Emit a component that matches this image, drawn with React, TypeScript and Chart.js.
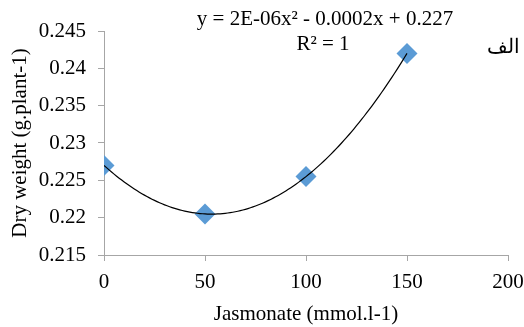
import React, { useEffect, useRef } from "react";
import { Chart, registerables } from "chart.js";

Chart.register(...registerables);

const jasmonate = [0, 50, 100, 150];
const dryWeight = [0.227, 0.2205, 0.2255, 0.242];
const xTicks = [0, 50, 100, 150, 200];
const yTicks = [0.215, 0.22, 0.225, 0.23, 0.235, 0.24, 0.245];
const equationText = "y = 2E-06x² - 0.0002x + 0.227";
const r2Text = "R² = 1";
const panelLabel = "الف";
const xTitle = "Jasmonate (mmol.l-1)";
const yTitle = "Dry weight (g.plant-1)";

function quadFit(xs: number[], ys: number[]) {
  let s0 = 0, s1 = 0, s2 = 0, s3 = 0, s4 = 0, t0 = 0, t1 = 0, t2 = 0;
  for (let i = 0; i < xs.length; i++) {
    const x = xs[i], y = ys[i];
    s0 += 1; s1 += x; s2 += x * x; s3 += x * x * x; s4 += x * x * x * x;
    t0 += y; t1 += x * y; t2 += x * x * y;
  }
  const M = [
    [s0, s1, s2, t0],
    [s1, s2, s3, t1],
    [s2, s3, s4, t2],
  ];
  for (let i = 0; i < 3; i++) {
    let p = i;
    for (let r = i + 1; r < 3; r++) if (Math.abs(M[r][i]) > Math.abs(M[p][i])) p = r;
    [M[i], M[p]] = [M[p], M[i]];
    for (let r = 0; r < 3; r++) {
      if (r === i) continue;
      const f = M[r][i] / M[i][i];
      for (let c = i; c < 4; c++) M[r][c] -= f * M[i][c];
    }
  }
  return [M[0][3] / M[0][0], M[1][3] / M[1][1], M[2][3] / M[2][2]];
}

const FONT = "'Liberation Serif', 'Times New Roman', serif";
const FS = 21;

export default function App() {
  const ref = useRef<HTMLCanvasElement | null>(null);
  useEffect(() => {
    document.body.style.margin = "0";
    const [a, b, c] = quadFit(jasmonate, dryWeight);
    const xMin = Math.min(...jasmonate), xMax = Math.max(...jasmonate);
    const trend: { x: number; y: number }[] = [];
    const n = 120;
    for (let i = 0; i <= n; i++) {
      const x = xMin + ((xMax - xMin) * i) / n;
      trend.push({ x, y: a + b * x + c * x * x });
    }
    const textPlugin = {
      id: "annot",
      afterDraw(chart: any) {
        const ctx = chart.ctx;
        ctx.save();
        ctx.fillStyle = "#000";
        ctx.font = `${FS}px ${FONT}`;
        ctx.textAlign = "center";
        ctx.textBaseline = "middle";
        ctx.fillText(equationText, 325, 19);
        ctx.fillText(r2Text, 323, 44);
        ctx.font = `20px ${FONT}`;
        ctx.fillText(panelLabel, 503, 48);
        ctx.restore();
      },
    };
    const chart = new Chart(ref.current as HTMLCanvasElement, {
      type: "scatter",
      data: {
        datasets: [
          {
            type: "line",
            data: trend,
            borderColor: "#000",
            borderWidth: 1.2,
            pointRadius: 0,
            fill: false,
            tension: 0,
            order: 0,
          } as any,
          {
            data: jasmonate.map((x, i) => ({ x, y: dryWeight[i] })),
            pointStyle: "rectRot",
            pointRadius: 10.5,
            pointHoverRadius: 10.5,
            backgroundColor: "#5B9BD5",
            borderColor: "#5B9BD5",
            borderWidth: 0,
            order: 1,
          },
        ],
      },
      options: {
        animation: false,
        responsive: false,
        events: [],
        layout: { padding: { top: 31, right: 16, left: 0, bottom: 0 } },
        plugins: { legend: { display: false }, tooltip: { enabled: false } },
        scales: {
          x: {
            type: "linear",
            min: 0,
            max: 200,
            afterBuildTicks: (s: any) => {
              s.ticks = xTicks.map((v) => ({ value: v }));
            },
            afterFit: (s: any) => {
              s.height = 72;
              s.paddingRight = 0;
              s.paddingLeft = 0;
            },
            ticks: {
              font: { family: FONT, size: FS },
              color: "#000",
              padding: 9,
            },
            grid: {
              drawOnChartArea: false,
              drawTicks: true,
              tickLength: 6,
              color: "#A6A6A6",
            },
            border: { color: "#A6A6A6", width: 1 },
            title: {
              display: true,
              text: xTitle,
              font: { family: FONT, size: FS },
              color: "#000",
              padding: { top: 2, bottom: 0 },
            },
          },
          y: {
            type: "linear",
            min: 0.215,
            max: 0.245,
            afterBuildTicks: (s: any) => {
              s.ticks = yTicks.map((v) => ({ value: v }));
            },
            afterFit: (s: any) => {
              s.width = 104;
              s.paddingTop = 0;
              s.paddingBottom = 0;
            },
            ticks: {
              font: { family: FONT, size: FS },
              color: "#000",
              padding: 12,
              callback: (v: any) => String(parseFloat(Number(v).toFixed(3))),
            },
            grid: {
              drawOnChartArea: false,
              drawTicks: true,
              tickLength: 6,
              color: "#A6A6A6",
            },
            border: { color: "#A6A6A6", width: 1 },
            title: {
              display: true,
              text: yTitle,
              font: { family: FONT, size: FS },
              color: "#000",
              padding: { top: 8, bottom: 0 },
            },
          },
        },
      },
      plugins: [textPlugin],
    } as any);
    return () => chart.destroy();
  }, []);
  return (
    <div style={{ width: 524, height: 327 }}>
      <canvas ref={ref} width={524} height={327} style={{ display: "block" }} />
    </div>
  );
}
